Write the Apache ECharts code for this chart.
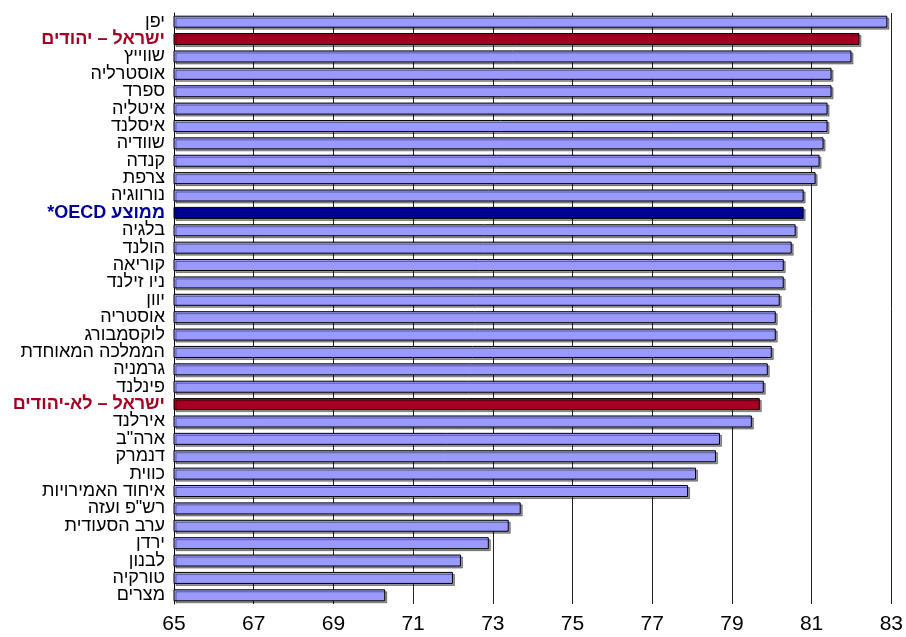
<!DOCTYPE html>
<html>
<head>
<meta charset="utf-8">
<script src="https://cdn.jsdelivr.net/npm/echarts@6/dist/echarts.min.js"></script>
<style>html,body{margin:0;padding:0;background:#fff}#c{width:906px;height:637px}</style>
</head>
<body>
<div id="c" dir="rtl"></div>
<script>
const categories = ['יפן','ישראל – יהודים','שווייץ','אוסטרליה','ספרד','איטליה','איסלנד','שוודיה','קנדה','צרפת','נורווגיה','ממוצע OECD*','בלגיה','הולנד','קוריאה','ניו זילנד','יוון','אוסטריה','לוקסמבורג','הממלכה המאוחדת','גרמניה','פינלנד','ישראל – לא-יהודים','אירלנד','ארה"ב','דנמרק','כווית','איחוד האמירויות','רש"פ ועזה','ערב הסעודית','ירדן','לבנון','טורקיה','מצרים'];
const values = [82.9,82.2,82.0,81.5,81.5,81.4,81.4,81.3,81.2,81.1,80.8,80.8,80.6,80.5,80.3,80.3,80.2,80.1,80.1,80.0,79.9,79.8,79.7,79.5,78.7,78.6,78.1,77.9,73.7,73.4,72.9,72.2,72.0,70.3];
const israelRows = ['ישראל – יהודים','ישראל – לא-יהודים'];
const oecdRow = 'ממוצע OECD*';
const tickMin = 65, tickMax = 83, tickStep = 2;

const RED = '#A50021', NAVY = '#000099', LIGHT = '#9999FF';
function colorFor(name){ return israelRows.includes(name) ? RED : (name === oecdRow ? NAVY : LIGHT); }
function labelStyle(name){
  if (israelRows.includes(name)) return {color: RED, fontWeight: 'bold'};
  if (name === oecdRow) return {color: NAVY, fontWeight: 'bold'};
  return {color: '#000'};
}
const chart = echarts.init(document.getElementById('c'), null, {renderer:'canvas'});
chart.setOption({
  animation: false,
  grid: {left: 174, right: 13, top: 13, bottom: 33},
  xAxis: {
    type: 'value', min: tickMin, max: tickMax, interval: tickStep,
    axisLine: {show: false}, axisTick: {show: false},
    axisLabel: {fontFamily: 'Liberation Sans, Arial', fontSize: 21, color: '#000', margin: 10},
    splitLine: {show: true, lineStyle: {color: '#222', width: 1}}
  },
  yAxis: {
    type: 'category', inverse: true,
    data: categories.map(n => ({value: n, textStyle: labelStyle(n)})),
    axisLine: {show: true, lineStyle: {color: '#000', width: 1}},
    axisTick: {show: false},
    axisLabel: {fontFamily: 'Liberation Sans, Arial', fontSize: 18, margin: 9, interval: 0}
  },
  series: [{
    type: 'bar', barWidth: 12,
    data: values.map((v,i) => ({value: v, itemStyle: {color: colorFor(categories[i])}})),
    itemStyle: {borderColor: '#000', borderWidth: 1, shadowColor: 'rgba(0,0,0,0.4)', shadowOffsetX: 2, shadowOffsetY: 2, shadowBlur: 0}
  }]
});
</script>
</body>
</html>
